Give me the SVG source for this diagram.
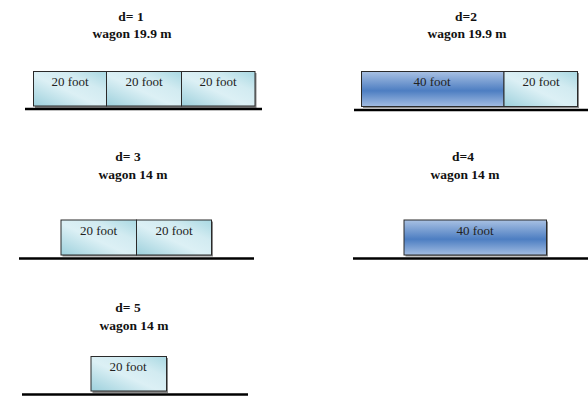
<svg xmlns="http://www.w3.org/2000/svg" width="588" height="396" viewBox="0 0 588 396">
<defs>
<linearGradient id="g20" x1="0" y1="1" x2="1" y2="0">
<stop offset="0" stop-color="#9dd0dc"/>
<stop offset="0.45" stop-color="#dcf0f5"/>
<stop offset="0.7" stop-color="#d2ebf1"/>
<stop offset="1" stop-color="#a8d8e2"/>
</linearGradient>
<linearGradient id="g40" x1="0" y1="0" x2="0" y2="1">
<stop offset="0" stop-color="#a9c1e3"/>
<stop offset="0.55" stop-color="#4d7ec2"/>
<stop offset="1" stop-color="#a3bde2"/>
</linearGradient>
</defs>
<style>
.t{font-family:"Liberation Serif","Times New Roman",serif;font-weight:bold;font-size:13.5px;fill:#111;text-anchor:middle}
.b{font-family:"Liberation Serif","Times New Roman",serif;font-size:13px;fill:#222;text-anchor:middle}
.c20{fill:url(#g20);stroke:#2a2a2a;stroke-width:1}
.c40{fill:url(#g40);stroke:#2a2a2a;stroke-width:1}
.sh{fill:#8a8a8a}
.gr{stroke:#000;stroke-width:2.5;fill:none}
</style>

<g id="panel1">
<text class="t" x="131" y="21">d= 1</text>
<text class="t" x="132" y="38">wagon 19.9 m</text>
<rect class="sh" x="35" y="73" width="221.5" height="35"/>
<rect id="p1c1" class="c20" x="33.5" y="71.5" width="73" height="34.5"/>
<rect id="p1c2" class="c20" x="106.5" y="71.5" width="75" height="34.5"/>
<rect id="p1c3" class="c20" x="181.5" y="71.5" width="73.5" height="34.5"/>
<text class="b" x="70" y="86">20 foot</text>
<text class="b" x="144" y="86">20 foot</text>
<text class="b" x="218" y="86">20 foot</text>
<line class="gr" x1="25" y1="109" x2="262" y2="109"/>
</g>

<g id="panel2">
<text class="t" x="466" y="21">d=2</text>
<text class="t" x="467" y="38">wagon 19.9 m</text>
<rect class="sh" x="363" y="73" width="216" height="35"/>
<rect id="p2c1" class="c40" x="361.5" y="71.5" width="142.5" height="35"/>
<rect id="p2c2" class="c20" x="504" y="71.5" width="73.5" height="35"/>
<text class="b" x="432" y="86">40 foot</text>
<text class="b" x="541" y="86">20 foot</text>
<line class="gr" x1="354" y1="110" x2="588" y2="110"/>
</g>

<g id="panel3">
<text class="t" x="128" y="161">d= 3</text>
<text class="t" x="133" y="179">wagon 14 m</text>
<rect class="sh" x="62.5" y="221.5" width="150.5" height="35"/>
<rect id="p3c1" class="c20" x="61" y="220" width="75.5" height="35"/>
<rect id="p3c2" class="c20" x="136.5" y="220" width="75" height="35"/>
<text class="b" x="98.5" y="235">20 foot</text>
<text class="b" x="174" y="235">20 foot</text>
<line class="gr" x1="19" y1="258.5" x2="254" y2="258.5"/>
</g>

<g id="panel4">
<text class="t" x="463" y="161">d=4</text>
<text class="t" x="465" y="179">wagon 14 m</text>
<rect class="sh" x="405.5" y="221.5" width="142.5" height="35"/>
<rect id="p4c1" class="c40" x="404" y="220" width="142.5" height="35"/>
<text class="b" x="475" y="235">40 foot</text>
<line class="gr" x1="353" y1="258.5" x2="588" y2="258.5"/>
</g>

<g id="panel5">
<text class="t" x="128" y="312">d= 5</text>
<text class="t" x="134" y="330">wagon 14 m</text>
<rect class="sh" x="92.5" y="358" width="75.5" height="35"/>
<rect id="p5c1" class="c20" x="91" y="356.5" width="75.5" height="34.5"/>
<text class="b" x="128" y="371">20 foot</text>
<line class="gr" x1="22" y1="394.5" x2="248" y2="394.5"/>
</g>
</svg>
